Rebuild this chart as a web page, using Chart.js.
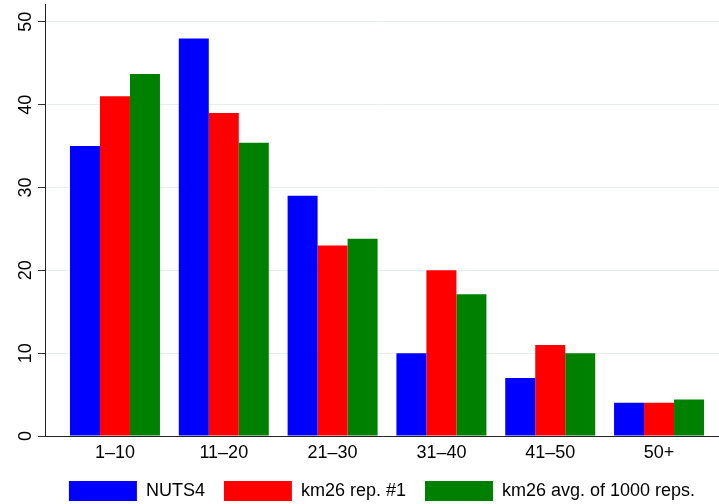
<!DOCTYPE html>
<html>
<head>
<meta charset="utf-8">
<script src="https://cdn.jsdelivr.net/npm/chart.js@4.4.1/dist/chart.umd.min.js"></script>
<style>
  html, body { margin: 0; padding: 0; background: #fff; }
  #wrap { width: 719px; height: 504px; }
</style>
</head>
<body>
<div id="wrap"><canvas id="c" width="719" height="504"></canvas></div>
<script>
const categories = ["1\u201310", "11\u201320", "21\u201330", "31\u201340", "41\u201350", "50+"];
const nuts4 = [35, 48, 29, 10, 7, 4];
const km26rep1 = [41, 39, 23, 20, 11, 4];
const km26avg = [43.7, 35.4, 23.8, 17.1, 10, 4.4];
const yTicks = [0, 10, 20, 30, 40, 50];
const seriesNames = ["NUTS4", "km26 rep. #1", "km26 avg. of 1000 reps."];

const toXY = arr => arr.map((v, i) => ({ x: i, y: v }));
const FONT = { family: "'Liberation Sans', Arial, Helvetica, sans-serif", size: 18 };

const legendFix = {
  id: 'legendFix',
  afterInit(chart) {
    const lg = chart.legend;
    if (!lg) return;
    const f = lg.fit.bind(lg);
    lg.fit = function () { f(); this.height = 42; };
  }
};

new Chart(document.getElementById('c'), {
  type: 'bar',
  plugins: [legendFix],
  data: {
    datasets: [
      { label: seriesNames[0], data: toXY(nuts4), backgroundColor: '#0000ff', borderWidth: 0 },
      { label: seriesNames[1], data: toXY(km26rep1), backgroundColor: '#ff0000', borderWidth: 0 },
      { label: seriesNames[2], data: toXY(km26avg), backgroundColor: '#008000', borderWidth: 0 }
    ]
  },
  options: {
    responsive: false,
    animation: false,
    devicePixelRatio: 1,
    layout: { padding: { top: 4, right: 0, left: 0, bottom: 0 } },
    datasets: { bar: { categoryPercentage: 0.827, barPercentage: 1.0 } },
    plugins: {
      tooltip: { enabled: false },
      legend: {
        position: 'bottom',
        fullSize: false,
        labels: {
          font: FONT,
          color: '#000',
          boxWidth: 68,
          boxHeight: 20,
          padding: 19
        }
      }
    },
    scales: {
      x: {
        type: 'linear',
        offset: false,
        min: -0.643,
        max: 5.551,
        grid: { display: false, drawTicks: false, tickLength: 0 },
        border: { display: true, color: '#222', width: 1 },
        afterBuildTicks: s => { s.ticks = categories.map((_, i) => ({ value: i })); },
        afterFit: s => { s.height = 26; s.paddingLeft = 0; s.paddingRight = 0; },
        ticks: {
          font: FONT,
          color: '#000',
          padding: 6,
          maxRotation: 0,
          autoSkip: false,
          callback: v => categories[v]
        }
      },
      y: {
        type: 'linear',
        min: 0,
        max: 52.15,
        afterBuildTicks: s => { s.ticks = yTicks.map(v => ({ value: v })); },
        afterFit: s => { s.width = 45; s.paddingTop = 0; s.paddingBottom = 0; },
        grid: {
          color: '#e6eef0',
          lineWidth: 1,
          tickColor: '#333',
          tickLength: 7,
          tickWidth: 1,
          drawTicks: true
        },
        border: { display: true, color: '#222', width: 1 },
        ticks: {
          font: FONT,
          color: '#000',
          minRotation: 90,
          maxRotation: 90,
          crossAlign: 'center',
          padding: 2,
          callback: v => String(v)
        }
      }
    }
  }
});
</script>
</body>
</html>
